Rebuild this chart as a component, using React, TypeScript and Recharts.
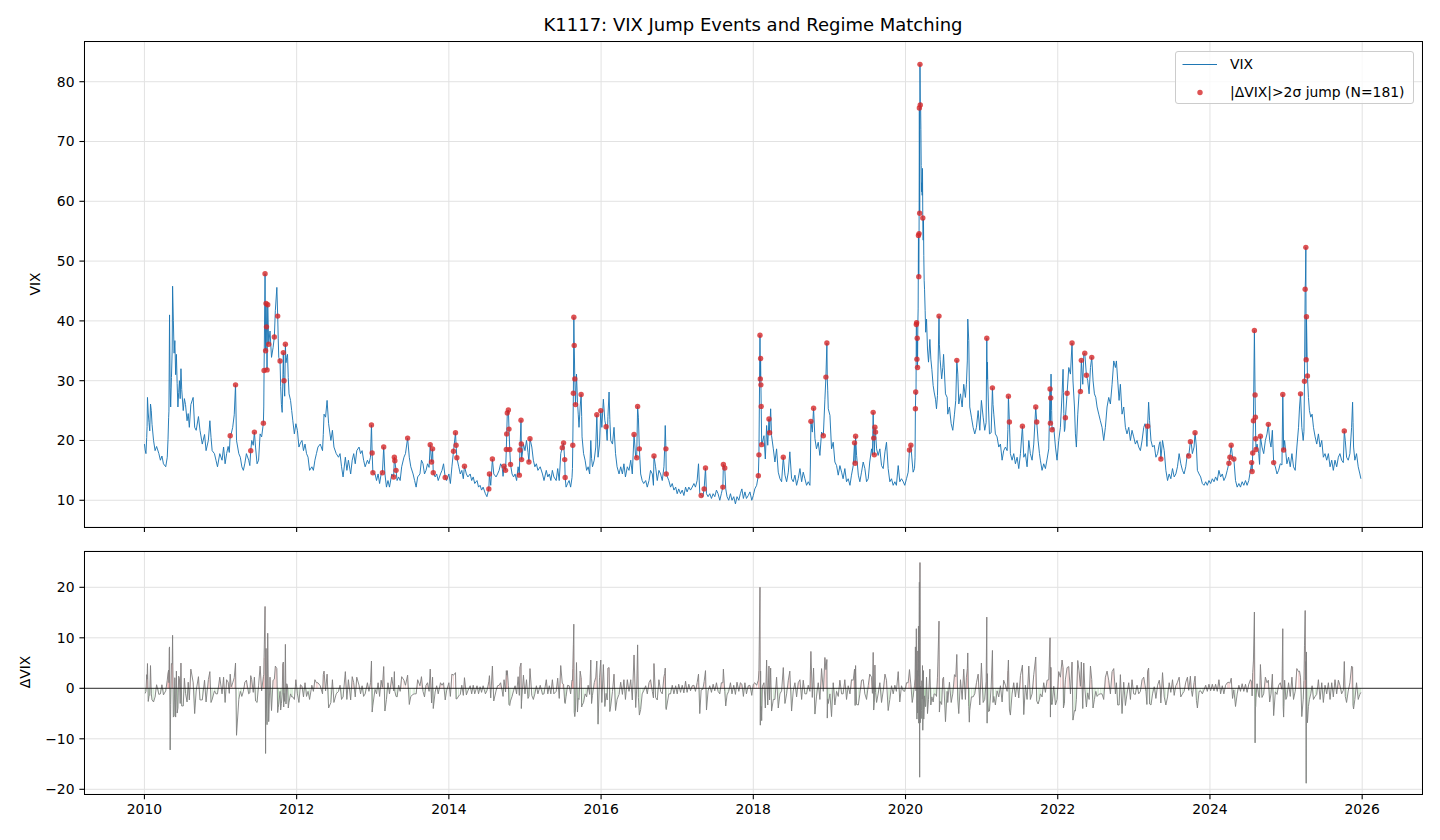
import React from "react";
import {
  ComposedChart,
  Line,
  Scatter,
  Bar,
  Cell,
  XAxis,
  YAxis,
  CartesianGrid,
  ReferenceLine,
} from "recharts";

type Pt = [number, number];

// VIX level: [decimal year, level]
const vix2010to2012: Pt[] = [
  [2010.0, 19.4], [2010.01, 18.4], [2010.02, 17.8], [2010.03, 20.5], [2010.035, 22.3], [2010.04, 27.2],
  [2010.05, 24.6], [2010.06, 23.0], [2010.07, 21.6], [2010.08, 26.1], [2010.09, 25.0], [2010.1, 22.7],
  [2010.12, 20.0], [2010.14, 18.3], [2010.16, 19.0], [2010.19, 17.8], [2010.21, 16.7], [2010.23, 17.4],
  [2010.25, 16.1], [2010.28, 15.6], [2010.3, 17.2], [2010.31, 20.2], [2010.318, 23.8], [2010.322, 24.9],
  [2010.326, 32.8], [2010.33, 41.0], [2010.338, 28.8], [2010.345, 25.6], [2010.355, 30.5], [2010.365, 35.3],
  [2010.37, 45.8], [2010.38, 40.1], [2010.39, 34.6], [2010.4, 36.7], [2010.41, 31.0], [2010.42, 34.4],
  [2010.43, 29.5], [2010.44, 25.6], [2010.45, 28.0], [2010.46, 30.0], [2010.47, 27.0], [2010.48, 32.0],
  [2010.49, 28.5], [2010.51, 25.0], [2010.525, 27.0], [2010.54, 26.0], [2010.56, 23.3], [2010.575, 24.5],
  [2010.59, 22.2], [2010.61, 26.0], [2010.64, 27.2], [2010.66, 22.2], [2010.68, 21.7], [2010.71, 24.0],
  [2010.73, 21.7], [2010.76, 19.4], [2010.79, 21.0], [2010.81, 18.3], [2010.84, 20.0], [2010.86, 23.3],
  [2010.875, 20.5], [2010.89, 18.3], [2010.92, 17.8], [2010.94, 16.7], [2010.96, 15.6], [2010.99, 17.8],
  [2011.02, 16.7], [2011.04, 18.9], [2011.06, 16.1], [2011.08, 17.8], [2011.1, 19.0], [2011.115, 18.0],
  [2011.14, 21.1], [2011.16, 22.2], [2011.18, 24.3], [2011.21, 20.0], [2011.24, 17.8], [2011.26, 17.2],
  [2011.28, 15.6], [2011.3, 15.0], [2011.32, 16.2], [2011.34, 17.8], [2011.37, 16.7], [2011.385, 15.8],
  [2011.41, 20.0], [2011.43, 19.2], [2011.46, 18.9], [2011.48, 16.1], [2011.5, 16.7], [2011.52, 21.1],
  [2011.54, 20.6], [2011.568, 25.6], [2011.65, 38.3], [2011.67, 33.9], [2011.69, 35.5], [2011.72, 41.7],
  [2011.74, 45.6], [2011.758, 37.0], [2011.765, 33.9], [2011.79, 29.0], [2011.8, 26.0], [2011.81, 24.7],
  [2011.818, 29.5], [2011.83, 31.0], [2011.843, 27.4], [2011.86, 33.0], [2011.87, 33.9], [2011.88, 34.4],
  [2011.89, 30.5], [2011.9, 27.8], [2011.92, 26.7], [2011.935, 25.0], [2011.95, 23.3], [2011.97, 21.1],
  [2011.99, 22.8], [2012.01, 21.7], [2012.03, 18.9], [2012.05, 19.6], [2012.07, 20.0], [2012.09, 18.3],
  [2012.11, 19.4], [2012.13, 17.8], [2012.15, 17.2], [2012.17, 15.0], [2012.2, 15.6], [2012.22, 15.0],
  [2012.24, 16.7], [2012.26, 17.8], [2012.28, 18.9], [2012.31, 19.4], [2012.34, 18.3], [2012.35, 21.0],
  [2012.36, 24.4], [2012.38, 23.9], [2012.4, 26.7], [2012.42, 22.8], [2012.45, 20.0], [2012.47, 21.7],
  [2012.49, 18.9], [2012.52, 17.8], [2012.55, 17.2], [2012.57, 17.8], [2012.59, 15.6], [2012.61, 13.9],
];

const vix2012to2015: Pt[] = [
  [2012.64, 17.2], [2012.66, 15.0], [2012.68, 16.7], [2012.71, 14.4], [2012.73, 16.7], [2012.75, 17.8],
  [2012.77, 16.1], [2012.79, 18.3], [2012.82, 18.9], [2012.84, 17.8], [2012.86, 18.3], [2012.88, 16.7],
  [2012.9, 15.6], [2012.93, 16.7], [2012.95, 16.1], [2012.97, 17.2], [2013.03, 14.4], [2013.05, 13.3],
  [2013.07, 14.4], [2013.09, 12.8], [2013.11, 14.4], [2013.16, 14.4], [2013.18, 12.2], [2013.2, 13.3],
  [2013.22, 12.2], [2013.25, 14.4], [2013.32, 13.3], [2013.34, 13.9], [2013.36, 13.3], [2013.38, 15.6],
  [2013.41, 17.2], [2013.43, 17.8], [2013.48, 17.2], [2013.5, 15.6], [2013.53, 14.4], [2013.55, 13.3],
  [2013.57, 12.2], [2013.59, 13.9], [2013.62, 14.4], [2013.64, 16.7], [2013.66, 16.1], [2013.68, 14.4],
  [2013.7, 15.0], [2013.72, 16.1], [2013.74, 15.5], [2013.82, 13.9], [2013.84, 14.4], [2013.86, 13.3],
  [2013.89, 14.4], [2013.91, 15.0], [2013.93, 16.1], [2013.97, 13.3], [2014.0, 14.4], [2014.02, 12.8],
  [2014.04, 15.6], [2014.13, 15.6], [2014.15, 14.4], [2014.17, 15.0], [2014.19, 13.6], [2014.23, 14.4],
  [2014.25, 13.9], [2014.28, 14.4], [2014.3, 13.3], [2014.32, 13.9], [2014.34, 12.8], [2014.37, 13.3],
  [2014.39, 12.2], [2014.41, 12.5], [2014.43, 11.7], [2014.45, 12.2], [2014.48, 11.1], [2014.5, 10.6],
  [2014.55, 12.5], [2014.59, 14.4], [2014.62, 13.9], [2014.64, 14.4], [2014.66, 15.0], [2014.68, 16.1],
  [2014.7, 15.6], [2014.712, 14.0], [2014.83, 14.4], [2014.85, 13.9], [2014.87, 14.4], [2014.89, 13.3],
  [2014.91, 15.6], [2014.98, 19.4], [2015.0, 18.3], [2015.02, 20.0], [2015.04, 18.0], [2015.09, 18.9],
  [2015.11, 16.7], [2015.13, 15.6], [2015.15, 16.1], [2015.17, 15.0], [2015.2, 15.6],
];

const vix2015to2017: Pt[] = [
  [2015.23, 14.4], [2015.25, 13.3], [2015.28, 15.0], [2015.3, 13.9], [2015.32, 14.4], [2015.34, 13.3],
  [2015.36, 15.0], [2015.38, 13.9], [2015.41, 13.3], [2015.43, 15.3], [2015.45, 13.3], [2015.47, 17.8],
  [2015.54, 12.2], [2015.56, 12.8], [2015.58, 13.3], [2015.6, 12.2], [2015.618, 13.8], [2015.624, 15.3],
  [2015.677, 31.1], [2015.69, 26.4], [2015.7, 24.4], [2015.71, 22.2], [2015.725, 25.6], [2015.745, 24.0],
  [2015.75, 20.6], [2015.77, 17.8], [2015.79, 16.7], [2015.81, 15.0], [2015.83, 15.6], [2015.85, 14.4],
  [2015.865, 20.0], [2015.875, 17.0], [2015.887, 15.6], [2015.91, 16.7], [2015.93, 18.9], [2015.96, 17.2],
  [2015.98, 19.4], [2016.01, 22.2], [2016.03, 26.9], [2016.05, 23.3], [2016.08, 20.0], [2016.09, 24.0],
  [2016.105, 28.1], [2016.115, 23.5], [2016.127, 20.0], [2016.15, 19.4], [2016.17, 22.2], [2016.19, 17.8],
  [2016.21, 15.6], [2016.236, 14.4], [2016.258, 15.6], [2016.28, 14.4], [2016.3, 16.1], [2016.32, 13.9],
  [2016.345, 15.6], [2016.367, 15.0], [2016.39, 16.7], [2016.41, 14.4], [2016.455, 17.2], [2016.49, 23.9],
  [2016.52, 14.4], [2016.54, 13.3], [2016.56, 12.8], [2016.586, 13.3], [2016.607, 12.2], [2016.63, 13.3],
  [2016.65, 15.0], [2016.673, 14.4], [2016.688, 12.5], [2016.716, 15.6], [2016.738, 13.3], [2016.76, 15.0],
  [2016.782, 14.4], [2016.804, 13.3], [2016.826, 15.6], [2016.835, 18.5], [2016.843, 22.5], [2016.89, 13.3],
  [2016.913, 12.2], [2016.935, 12.8], [2016.957, 11.7], [2016.98, 12.2], [2017.0, 11.1], [2017.02, 11.9],
  [2017.044, 11.1], [2017.066, 11.7], [2017.088, 10.8], [2017.11, 12.2], [2017.13, 11.4], [2017.153, 12.2],
  [2017.175, 11.7], [2017.197, 12.2], [2017.22, 12.8], [2017.24, 12.2], [2017.262, 13.3], [2017.28, 16.1],
  [2017.297, 11.1], [2017.337, 10.6], [2017.385, 11.1], [2017.406, 10.6], [2017.428, 11.1], [2017.45, 10.3],
  [2017.472, 11.1], [2017.494, 10.6], [2017.516, 11.7], [2017.537, 11.1], [2017.56, 10.0], [2017.58, 11.1],
  [2017.638, 11.9], [2017.655, 10.6], [2017.677, 10.0], [2017.7, 11.1], [2017.72, 10.0], [2017.743, 10.6],
  [2017.765, 9.4], [2017.786, 10.6], [2017.81, 10.0],
];

const vix2017to2020: Pt[] = [
  [2017.83, 11.1], [2017.85, 11.9], [2017.87, 10.3], [2017.89, 11.4], [2017.91, 10.3], [2017.934, 10.8],
  [2017.956, 11.4], [2017.98, 10.0], [2018.0, 10.8], [2018.02, 11.9], [2018.044, 12.5], [2018.12, 19.7],
  [2018.14, 20.8], [2018.158, 16.9], [2018.175, 22.5], [2018.19, 19.2], [2018.228, 25.3], [2018.24, 20.8],
  [2018.263, 18.6], [2018.284, 16.4], [2018.306, 18.6], [2018.328, 14.7], [2018.35, 13.6], [2018.372, 13.1],
  [2018.416, 14.2], [2018.438, 13.1], [2018.46, 14.7], [2018.48, 18.1], [2018.503, 13.6], [2018.525, 13.1],
  [2018.547, 14.2], [2018.569, 12.5], [2018.59, 13.6], [2018.613, 15.3], [2018.635, 13.1], [2018.656, 14.7],
  [2018.678, 13.6], [2018.7, 12.5], [2018.722, 13.1], [2018.744, 12.5], [2018.75, 15.9], [2018.775, 21.4],
  [2018.81, 20.3], [2018.83, 18.6], [2018.853, 19.7], [2018.875, 17.5], [2018.897, 21.4], [2018.941, 26.9],
  [2018.972, 30.4], [2018.978, 28.3], [2018.985, 25.3], [2019.007, 24.2], [2019.028, 18.6], [2019.05, 19.7],
  [2019.072, 16.4], [2019.094, 15.8], [2019.116, 14.2], [2019.138, 15.8], [2019.16, 14.7], [2019.18, 13.6],
  [2019.203, 15.3], [2019.225, 13.1], [2019.247, 13.6], [2019.27, 12.5], [2019.29, 14.2], [2019.313, 15.8],
  [2019.357, 17.5], [2019.38, 14.2], [2019.4, 13.1], [2019.422, 14.7], [2019.444, 16.4], [2019.466, 15.3],
  [2019.488, 13.1], [2019.51, 13.6], [2019.53, 16.4], [2019.554, 18.6], [2019.565, 17.6], [2019.62, 18.6],
  [2019.64, 17.5], [2019.663, 18.6], [2019.685, 15.8], [2019.707, 15.3], [2019.73, 18.1], [2019.75, 19.7],
  [2019.772, 15.3], [2019.794, 13.1], [2019.816, 13.6], [2019.838, 12.5], [2019.86, 13.1], [2019.88, 12.5],
  [2019.904, 15.8], [2019.925, 13.1], [2019.947, 13.6], [2019.97, 13.1], [2019.99, 12.5], [2020.013, 13.6],
  [2020.035, 14.7], [2020.088, 16.4], [2020.1, 14.7], [2020.118, 15.3], [2020.125, 17.1], [2020.138, 27.6],
  [2020.162, 39.6], [2020.166, 42.0], [2020.198, 76.5], [2020.202, 72.0], [2020.206, 66.0], [2020.21, 61.6],
  [2020.215, 63.1], [2020.219, 61.0], [2020.223, 65.5], [2020.232, 53.5], [2020.236, 57.0], [2020.24, 50.9],
  [2020.245, 46.8], [2020.25, 45.3], [2020.258, 41.7], [2020.265, 38.1], [2020.276, 40.3], [2020.289, 35.3],
  [2020.302, 33.1], [2020.32, 36.9], [2020.333, 33.6], [2020.346, 31.9], [2020.363, 29.2], [2020.376, 28.1],
  [2020.394, 26.9], [2020.407, 25.3], [2020.42, 27.5], [2020.445, 36.1], [2020.455, 33.5], [2020.475, 30.3],
  [2020.49, 32.2], [2020.5, 34.4],
];

const vix2020to2023: Pt[] = [
  [2020.525, 27.8], [2020.547, 27.2], [2020.555, 24.4], [2020.577, 25.6], [2020.6, 22.8], [2020.621, 21.7],
  [2020.643, 24.4], [2020.66, 26.7], [2020.687, 31.1], [2020.7, 26.1], [2020.722, 27.8], [2020.744, 25.6],
  [2020.765, 29.4], [2020.787, 27.2], [2020.8, 29.4], [2020.812, 33.3], [2020.818, 40.3], [2020.831, 36.7],
  [2020.838, 30.0], [2020.844, 25.6], [2020.866, 23.9], [2020.888, 22.2], [2020.91, 21.1], [2020.932, 22.2],
  [2020.954, 25.0], [2020.976, 21.7], [2020.997, 26.7], [2021.02, 23.9], [2021.041, 21.7], [2021.059, 23.0],
  [2021.072, 30.2], [2021.076, 33.1], [2021.08, 30.2], [2021.09, 25.6], [2021.103, 21.1], [2021.125, 21.3],
  [2021.15, 26.0], [2021.16, 24.4], [2021.181, 21.1], [2021.203, 20.6], [2021.225, 18.9], [2021.247, 19.4],
  [2021.269, 16.7], [2021.29, 18.3], [2021.313, 18.9], [2021.335, 18.3], [2021.345, 21.8], [2021.378, 17.8],
  [2021.4, 16.7], [2021.422, 17.8], [2021.444, 16.1], [2021.466, 17.2], [2021.488, 15.3], [2021.51, 17.8],
  [2021.554, 17.2], [2021.575, 17.8], [2021.597, 15.6], [2021.62, 20.0], [2021.64, 17.8], [2021.663, 16.7],
  [2021.685, 19.4], [2021.742, 20.0], [2021.76, 17.8], [2021.772, 16.7], [2021.794, 15.0], [2021.816, 16.1],
  [2021.838, 15.3], [2021.86, 16.9], [2021.882, 18.6], [2021.912, 31.1], [2021.916, 27.9], [2021.92, 25.0],
  [2021.948, 22.2], [2021.97, 18.9], [2021.991, 16.7], [2022.013, 20.0], [2022.035, 22.2], [2022.057, 27.8],
  [2022.07, 31.9], [2022.075, 28.0], [2022.08, 24.5], [2022.088, 21.5], [2022.095, 22.0], [2022.145, 32.2],
  [2022.167, 31.1], [2022.2, 30.0], [2022.22, 25.6], [2022.232, 21.1], [2022.245, 18.9], [2022.263, 24.4],
  [2022.28, 27.8], [2022.329, 29.4], [2022.342, 34.4], [2022.394, 30.0], [2022.412, 27.8], [2022.43, 32.2],
  [2022.464, 30.0], [2022.482, 27.8], [2022.5, 27.2], [2022.517, 25.6], [2022.539, 24.4], [2022.56, 23.3],
  [2022.582, 22.2], [2022.604, 20.0], [2022.626, 22.2], [2022.648, 25.6], [2022.67, 27.2], [2022.692, 26.1],
  [2022.714, 29.4], [2022.736, 33.3], [2022.758, 32.2], [2022.771, 33.3], [2022.788, 30.0], [2022.806, 26.7],
  [2022.823, 29.4], [2022.845, 24.4], [2022.867, 25.6], [2022.889, 22.2], [2022.91, 21.1], [2022.933, 22.2],
  [2022.955, 20.0], [2022.976, 21.7], [2022.998, 20.6], [2023.02, 19.4], [2023.042, 20.0], [2023.064, 18.9],
  [2023.086, 18.3], [2023.108, 20.0], [2023.13, 22.2], [2023.147, 22.8],
];

const vix2023to2025: Pt[] = [
  [2023.159, 22.2], [2023.172, 19.0], [2023.194, 26.4], [2023.207, 23.3], [2023.225, 20.0], [2023.246, 18.9],
  [2023.268, 19.2], [2023.29, 17.2], [2023.312, 17.8], [2023.334, 19.4], [2023.345, 19.8], [2023.377, 20.0],
  [2023.399, 18.3], [2023.421, 15.0], [2023.443, 13.3], [2023.464, 14.4], [2023.486, 13.6], [2023.508, 15.3],
  [2023.53, 13.9], [2023.552, 14.4], [2023.573, 15.6], [2023.595, 17.8], [2023.617, 16.1], [2023.639, 15.0],
  [2023.66, 14.4], [2023.682, 15.6], [2023.704, 17.8], [2023.756, 19.4], [2023.769, 17.8], [2023.791, 18.9],
  [2023.822, 18.9], [2023.835, 15.0], [2023.857, 14.4], [2023.878, 13.9], [2023.9, 12.8], [2023.922, 12.5],
  [2023.944, 13.1], [2023.965, 12.5], [2023.987, 13.3], [2024.009, 12.8], [2024.031, 13.6], [2024.053, 13.1],
  [2024.074, 13.9], [2024.096, 13.3], [2024.118, 15.0], [2024.14, 13.9], [2024.162, 14.4], [2024.183, 13.3],
  [2024.205, 13.9], [2024.227, 15.0], [2024.297, 17.2], [2024.336, 13.3], [2024.358, 12.2], [2024.38, 12.8],
  [2024.401, 12.2], [2024.423, 13.1], [2024.445, 12.5], [2024.467, 13.3], [2024.488, 12.5], [2024.51, 13.3],
  [2024.532, 15.0], [2024.619, 19.4], [2024.641, 17.8], [2024.652, 16.0], [2024.684, 18.9], [2024.706, 17.8],
  [2024.728, 20.0], [2024.75, 21.1], [2024.785, 20.0], [2024.802, 18.9], [2024.82, 21.7], [2024.859, 15.6],
  [2024.881, 14.4], [2024.902, 15.0], [2024.924, 16.1], [2024.946, 15.9], [2024.962, 24.1], [2024.981, 20.0],
  [2024.998, 17.8], [2025.011, 16.1], [2025.033, 17.2], [2025.055, 15.6], [2025.077, 17.8], [2025.098, 15.6],
  [2025.12, 15.0], [2025.142, 18.9], [2025.164, 22.2], [2025.177, 25.6], [2025.207, 22.2], [2025.225, 20.0],
  [2025.235, 21.5], [2025.255, 47.0], [2025.272, 37.6], [2025.294, 27.2], [2025.307, 25.0], [2025.325, 23.9],
  [2025.342, 24.4], [2025.36, 22.2], [2025.382, 20.6], [2025.403, 19.4], [2025.425, 21.1], [2025.447, 18.9],
  [2025.469, 20.0], [2025.49, 17.2], [2025.512, 17.8], [2025.534, 16.7], [2025.556, 17.8], [2025.578, 15.6],
  [2025.6, 16.7], [2025.621, 15.0], [2025.643, 16.7], [2025.665, 15.6], [2025.687, 17.2], [2025.708, 17.8],
  [2025.73, 16.7], [2025.752, 16.3], [2025.778, 20.0], [2025.795, 17.2], [2025.817, 16.7], [2025.839, 17.8],
  [2025.861, 22.2], [2025.874, 26.4], [2025.88, 23.0], [2025.887, 18.9], [2025.904, 16.7], [2025.926, 17.8],
  [2025.948, 15.6], [2025.97, 14.4], [2025.983, 13.6],
];

// days flagged as |dVIX| > 2 sigma jumps: [decimal year, VIX level]
const jumps2011: Pt[] = [
  [2011.127, 20.8], [2011.197, 29.3], [2011.397, 18.3], [2011.445, 21.4], [2011.563, 22.9], [2011.572, 31.7],
  [2011.585, 47.9], [2011.592, 35.0], [2011.598, 42.9], [2011.604, 39.0], [2011.611, 31.8], [2011.62, 42.7],
  [2011.633, 36.1], [2011.707, 37.3], [2011.751, 40.8], [2011.782, 33.3], [2011.825, 34.7], [2011.834, 30.0],
  [2011.852, 36.1],
];

const jumps2013to2015: Pt[] = [
  [2012.983, 22.6], [2012.992, 17.9], [2013.002, 14.6], [2013.127, 14.6], [2013.144, 18.9], [2013.275, 13.9],
  [2013.284, 17.2], [2013.29, 16.6], [2013.306, 15.0], [2013.458, 20.4], [2013.755, 19.3], [2013.773, 16.4],
  [2013.786, 18.6], [2013.795, 14.6], [2013.952, 13.8], [2014.061, 18.2], [2014.087, 21.3], [2014.095, 19.2],
  [2014.105, 17.1], [2014.205, 15.7], [2014.525, 11.9], [2014.533, 14.4], [2014.572, 16.9], [2014.725, 15.7],
  [2014.745, 15.0], [2014.755, 18.5], [2014.76, 21.1], [2014.768, 24.6], [2014.782, 25.1], [2014.79, 21.9],
  [2014.8, 18.5], [2014.81, 16.0], [2014.926, 14.2], [2014.934, 18.4], [2014.948, 23.4], [2014.952, 19.4],
  [2014.956, 16.8], [2015.052, 16.4], [2015.066, 20.3],
];

const jumps2015to2017: Pt[] = [
  [2015.49, 18.8], [2015.507, 19.6], [2015.522, 16.8], [2015.528, 13.8], [2015.628, 19.2], [2015.636, 27.9],
  [2015.642, 40.6], [2015.647, 35.9], [2015.655, 30.3], [2015.664, 26.0], [2015.738, 27.7], [2015.944, 24.3],
  [2015.996, 25.0], [2016.066, 22.3], [2016.433, 21.0], [2016.468, 17.1], [2016.48, 25.7], [2016.503, 18.6],
  [2016.695, 17.4], [2016.852, 18.6], [2016.856, 14.4], [2017.315, 10.8], [2017.354, 11.9], [2017.372, 15.4],
  [2017.6, 12.2], [2017.607, 16.0], [2017.625, 15.4],
];

const jumps2018to2020: Pt[] = [
  [2018.066, 14.1], [2018.074, 17.6], [2018.088, 37.6], [2018.092, 30.3], [2018.096, 33.7], [2018.1, 29.3],
  [2018.104, 25.7], [2018.11, 19.3], [2018.206, 23.6], [2018.214, 21.3], [2018.394, 17.2], [2018.757, 23.2],
  [2018.792, 25.4], [2018.92, 20.8], [2018.954, 30.6], [2018.967, 36.3], [2019.33, 19.6], [2019.338, 16.2],
  [2019.344, 20.7], [2019.575, 24.7], [2019.582, 20.4], [2019.59, 17.6], [2019.598, 22.2], [2019.606, 21.4],
  [2020.052, 18.4], [2020.07, 19.2], [2020.13, 25.3], [2020.134, 28.1], [2020.142, 39.4], [2020.146, 39.7],
  [2020.15, 33.6], [2020.154, 37.1], [2020.158, 32.2], [2020.17, 54.3], [2020.174, 47.4], [2020.178, 54.6],
  [2020.182, 75.6], [2020.186, 58.0], [2020.19, 82.9], [2020.194, 76.1], [2020.227, 57.2], [2020.44, 40.8],
];

const jumps2020to2022: Pt[] = [
  [2020.674, 33.4], [2021.068, 37.1], [2021.142, 28.8], [2021.352, 27.4], [2021.365, 23.1], [2021.536, 22.4],
  [2021.711, 25.6], [2021.724, 23.1], [2021.899, 28.6], [2021.904, 22.9], [2021.908, 27.1], [2021.926, 21.8],
  [2022.101, 23.8], [2022.123, 27.9], [2022.188, 36.3], [2022.298, 28.2], [2022.31, 33.4], [2022.355, 34.6],
  [2022.377, 30.9], [2022.447, 33.9],
];

const jumps2023to2025: Pt[] = [
  [2023.181, 22.4], [2023.355, 16.9], [2023.721, 17.4], [2023.743, 19.8], [2023.804, 21.3], [2024.249, 16.2],
  [2024.262, 17.2], [2024.279, 19.2], [2024.314, 16.9], [2024.548, 16.3], [2024.554, 14.8], [2024.562, 17.9],
  [2024.571, 23.3], [2024.584, 38.4], [2024.593, 27.6], [2024.597, 23.9], [2024.601, 20.3], [2024.605, 18.5],
  [2024.663, 20.7], [2024.767, 22.7], [2024.837, 16.3], [2024.957, 27.7], [2024.968, 18.4], [2025.19, 27.8],
  [2025.242, 29.9], [2025.251, 45.3], [2025.26, 52.3], [2025.264, 33.5], [2025.268, 40.7], [2025.281, 30.8],
  [2025.765, 21.6],
];

const yearTicks = [2010, 2012, 2014, 2016, 2018, 2020, 2022, 2024, 2026];
const vixTicks = [10, 20, 30, 40, 50, 60, 70, 80];
const dvixTicks = [-20, -10, 0, 10, 20];

const jumpList: Pt[] = [
  ...jumps2011, ...jumps2013to2015, ...jumps2015to2017,
  ...jumps2018to2020, ...jumps2020to2022, ...jumps2023to2025,
];

// jump days are VIX closes too, so merge them into the line
const vixData = [
  ...vix2010to2012, ...vix2012to2015, ...vix2015to2017,
  ...vix2017to2020, ...vix2020to2023, ...vix2023to2025, ...jumpList,
]
  .sort((a, b) => a[0] - b[0])
  .map(([t, v]) => ({ t, vix: v }));

const jumpData = jumpList.map(([t, v]) => ({ t, v }));

// dVIX = change from the previous close
const deltaData = vixData.slice(1).map((p, i) => ({
  t: p.t,
  d: Math.round((p.vix - vixData[i].vix) * 100) / 100,
}));

const FONT = "'DejaVu Sans', sans-serif";
const TICK = { fill: "#000", fontSize: 13.9, fontFamily: FONT };
const xDomain: [number, number] = [2009.21, 2026.79];
const minus = (v: number) => (v < 0 ? "\u2212" + Math.abs(v) : String(v));

const JumpDot = (p: any) => (
  <circle cx={p.cx} cy={p.cy} r={2.7} fill="#d62728" fillOpacity={0.8} />
);

export default function App() {
  return (
    <div
      style={{
        position: "absolute", left: 0, top: 0, width: 1440, height: 840,
        background: "#fff", fontFamily: FONT, color: "#000",
      }}
    >
      <div
        style={{
          position: "absolute", left: 84, width: 1338, top: 13, textAlign: "center",
          fontSize: 18, lineHeight: "24px", whiteSpace: "nowrap",
        }}
      >
        K1117: VIX Jump Events and Regime Matching
      </div>

      <div style={{ position: "absolute", left: 0, top: 0 }}>
        <ComposedChart width={1440} height={547} margin={{ top: 41.7, right: 17.7, bottom: 0, left: 0 }}>
          <CartesianGrid stroke="#e2e2e2" strokeWidth={1} />
          <XAxis
            type="number" dataKey="t" domain={xDomain} ticks={yearTicks} allowDataOverflow
            height={20} axisLine={false} tickSize={4.9} tickLine={{ stroke: "#000", strokeWidth: 1.1 }}
            tickFormatter={() => ""}
          />
          <YAxis
            type="number" domain={[5.53, 86.69]} ticks={vixTicks} allowDataOverflow width={84.3}
            axisLine={false} tickSize={4.9} tickMargin={4.9} tick={TICK}
            tickLine={{ stroke: "#000", strokeWidth: 1.1 }}
          />
          <Line
            data={vixData} dataKey="vix" type="linear" stroke="#1f77b4" strokeWidth={0.95}
            dot={false} activeDot={false} isAnimationActive={false}
          />
          <Scatter data={jumpData} dataKey="v" shape={JumpDot} isAnimationActive={false} />
        </ComposedChart>
      </div>

      <div style={{ position: "absolute", left: 0, top: 0 }}>
        <ComposedChart
          width={1440} height={840} data={deltaData}
          margin={{ top: 551, right: 17.7, bottom: 0, left: 0 }}
        >
          <CartesianGrid stroke="#e2e2e2" strokeWidth={1} />
          <XAxis
            type="number" dataKey="t" domain={xDomain} ticks={yearTicks} allowDataOverflow
            height={45.7} axisLine={false} tickSize={4.9} tickMargin={4.9} tick={TICK}
            tickLine={{ stroke: "#000", strokeWidth: 1.1 }}
          />
          <YAxis
            type="number" domain={[-20.99, 27.19]} ticks={dvixTicks} allowDataOverflow width={84.3}
            axisLine={false} tickSize={4.9} tickMargin={4.9} tick={TICK} tickFormatter={minus}
            tickLine={{ stroke: "#000", strokeWidth: 1.1 }}
          />
          <Bar dataKey="d" barSize={1} isAnimationActive={false}>
            {deltaData.map((p, i) => (
              <Cell key={i} fill={p.d >= 0 ? "#d62728" : "#2ca02c"} fillOpacity={0.6} />
            ))}
          </Bar>
          <Line
            dataKey="d" type="linear" stroke="#7f7f7f" strokeWidth={0.9}
            dot={false} activeDot={false} isAnimationActive={false}
          />
          <ReferenceLine y={0} stroke="#000" strokeWidth={0.8} />
        </ComposedChart>
      </div>

      {/* axes frames */}
      <div style={{ position: "absolute", left: 84, top: 41, width: 1339, height: 487, border: "1px solid #000", boxSizing: "border-box" }} />
      <div style={{ position: "absolute", left: 84, top: 550.5, width: 1339, height: 244.5, border: "1px solid #000", boxSizing: "border-box" }} />

      {/* y labels */}
      <div style={{ position: "absolute", left: 35, top: 284, transform: "translate(-50%,-50%) rotate(-90deg)", fontSize: 13.9, whiteSpace: "nowrap" }}>
        VIX
      </div>
      <div style={{ position: "absolute", left: 25, top: 672, transform: "translate(-50%,-50%) rotate(-90deg)", fontSize: 13.9, whiteSpace: "nowrap" }}>
        ΔVIX
      </div>

      {/* legend */}
      <div
        style={{
          position: "absolute", left: 1175, top: 51, width: 239, height: 53, boxSizing: "border-box",
          border: "1px solid #cccccc", borderRadius: 3, background: "rgba(255,255,255,0.8)", fontSize: 13.9,
        }}
      >
        <svg width={239} height={53} style={{ position: "absolute", left: 0, top: 0 }}>
          <line x1={6.5} x2={41} y1={12.5} y2={12.5} stroke="#1f77b4" strokeWidth={1} />
          <circle cx={24} cy={40.5} r={2.7} fill="#d62728" fillOpacity={0.8} />
        </svg>
        <div style={{ position: "absolute", left: 54, top: 3, lineHeight: "19px", whiteSpace: "nowrap" }}>VIX</div>
        <div style={{ position: "absolute", left: 54, top: 31, lineHeight: "19px", whiteSpace: "nowrap" }}>
          |ΔVIX|&gt;2σ jump (N=181)
        </div>
      </div>
    </div>
  );
}
